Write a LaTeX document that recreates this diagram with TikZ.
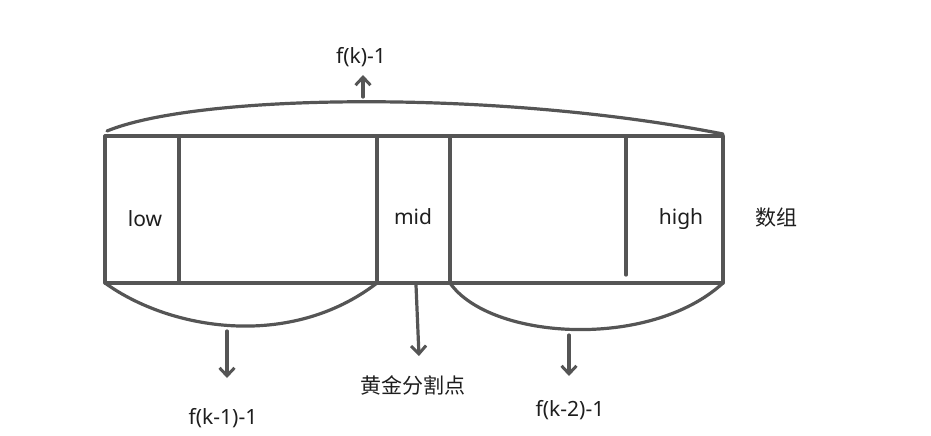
\documentclass[tikz,border=0pt]{standalone}
\usepackage{fontspec}
\setmainfont{Noto Sans}
\newfontfamily\cjk{Noto Sans CJK SC}
\usetikzlibrary{arrows.meta}
\definecolor{linegray}{RGB}{85,85,85}
\definecolor{textgray}{RGB}{30,30,30}
\tikzset{
  line/.style={draw=linegray, line width=3.2pt, line cap=round, line join=round},
  pointer/.style={line, -{Straight Barb[length=8pt,width=15pt,line width=3pt]}},
  tag/.style={text=textgray, inner sep=0pt, font=\fontsize{21}{24}\selectfont},
}
\begin{document}
\begin{tikzpicture}[x=1pt,y=1pt,yscale=-1]
\useasboundingbox (0,0) rectangle (931,436);

%Array box
\draw[line] (105,136) rectangle (723,283);
\draw[line] (179,136) -- (179,283);
\draw[line] (377,136) -- (377,283);
\draw[line] (450,136) -- (450,283);
\draw[line] (626,136) -- (626,275);

%Arcs
\draw[line] (107,131) .. controls (200,93) and (500,90) .. (723,134);
\draw[line] (105,283) .. controls (170,330) and (290,350) .. (377,283);
\draw[line] (450,283) .. controls (490,340) and (650,350) .. (723,283);

% Text Node
\node[tag] (low) at (145,219) {low};
\node[tag] (mid) at (413,217) {mid};
\node[tag] (high) at (681,219) {high};
\node[tag] (array) at (776,218) {\cjk 数组};
\node[tag] (fk) at (361,57) {f(k)-1};
\node[tag] (fkone) at (223,418) {f(k-1)-1};
\node[tag] (golden) at (413,385) {\cjk 黄金分割点};
\node[tag] (fktwo) at (570,410) {f(k-2)-1};

%Pointers
\coordinate (topfrom) at (363,97);
\coordinate (topto) at (363,75);
\coordinate (leftfrom) at (227,331);
\coordinate (leftto) at (227,378);
\coordinate (midfrom) at (416,285);
\coordinate (midto) at (419,356);
\coordinate (rightfrom) at (569,335);
\coordinate (rightto) at (569,376);
\draw[pointer] (topfrom) -- (topto);
\draw[pointer] (leftfrom) -- (leftto);
\draw[pointer] (midfrom) -- (midto);
\draw[pointer] (rightfrom) -- (rightto);

\end{tikzpicture}
\end{document}
